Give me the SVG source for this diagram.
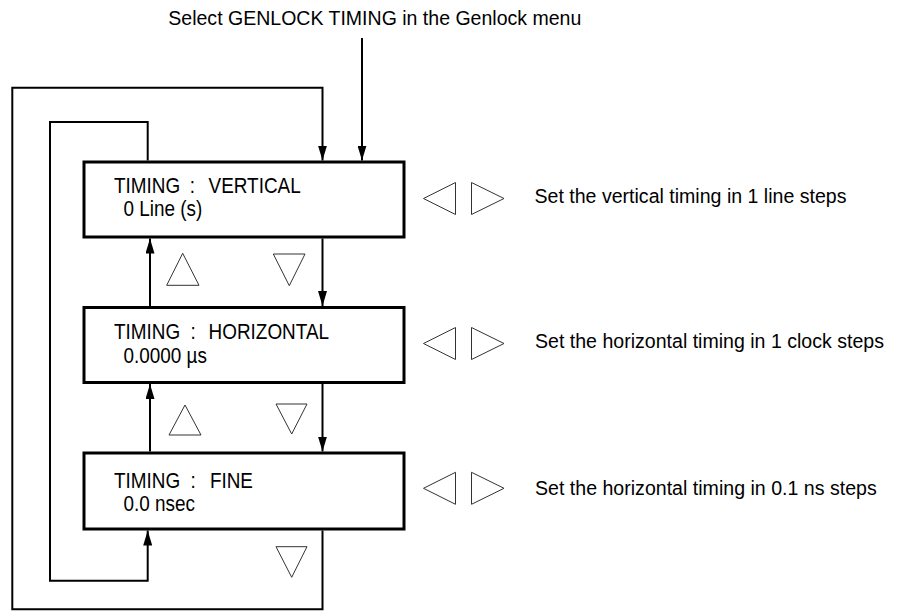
<svg xmlns="http://www.w3.org/2000/svg" width="898" height="612" viewBox="0 0 898 612">
<style>
  .box { fill: #fff; stroke: #000; stroke-width: 3; }
  .bt { font-family: "Liberation Sans", Arial, Helvetica, sans-serif; font-size: 22px; fill: #000; }
  .dt { font-family: "Liberation Sans", Arial, Helvetica, sans-serif; font-size: 20px; fill: #000; }
  .conn { fill: none; stroke: #000; stroke-width: 2; }
  .arr { marker-end: url(#ah); }
  .tri { fill: none; stroke: #333; stroke-width: 1; }
</style>
<defs>
  <marker id="ah" markerUnits="userSpaceOnUse" viewBox="0 0 15 9" refX="15" refY="4.5" markerWidth="15" markerHeight="9" orient="auto">
    <path d="M0,0 L15,4.5 L0,9 Z" fill="#000"/>
  </marker>
</defs>
<rect width="898" height="612" fill="#fff"/>

<text id="title" class="dt" x="168.3" y="24.5" textLength="413" lengthAdjust="spacingAndGlyphs">Select GENLOCK TIMING in the Genlock menu</text>

<g id="connectors">
  <line class="conn arr" x1="362" y1="38" x2="362" y2="160.5"/>
  <path class="conn arr" d="M322.5,530.5 V609.3 H12.3 V87.7 H322.5 V160.5"/>
  <path class="conn arr" d="M147.7,160.5 V122 H50 V580.7 H147.7 V530.5"/>
  <line class="conn arr" x1="322.5" y1="238.5" x2="322.5" y2="306"/>
  <line class="conn arr" x1="150" y1="306" x2="150" y2="238.5"/>
  <line class="conn arr" x1="322.5" y1="384" x2="322.5" y2="451.5"/>
  <line class="conn arr" x1="150" y1="451.5" x2="150" y2="384"/>
</g>

<g id="node-vertical">
  <rect class="box" x="84" y="162" width="320" height="75"/>
  <text class="bt" transform="translate(114,193) scale(0.86,1)">TIMING <tspan x="88">:</tspan> <tspan x="110">VERTICAL</tspan></text>
  <text class="bt" transform="translate(123.5,216) scale(0.86,1)">0 Line (s)</text>
</g>

<g id="node-horizontal">
  <rect class="box" x="84" y="307.5" width="320" height="75"/>
  <text class="bt" transform="translate(114,339) scale(0.86,1)">TIMING <tspan x="89">:</tspan> <tspan x="110">HORIZONTAL</tspan></text>
  <text class="bt" transform="translate(123.5,362.5) scale(0.86,1)">0.0000 µs</text>
</g>

<g id="node-fine">
  <rect class="box" x="84" y="453" width="320" height="76"/>
  <text class="bt" transform="translate(114,487.5) scale(0.86,1)">TIMING <tspan x="89">:</tspan> <tspan x="111.5">FINE</tspan></text>
  <text class="bt" transform="translate(123.5,510.5) scale(0.86,1)">0.0 nsec</text>
</g>

<g id="updown-buttons">
  <polygon class="tri" points="182.7,253.3 199,285.3 166.7,285.3"/>
  <polygon class="tri" points="273.3,254 305,254 289.3,285.7"/>
  <polygon class="tri" points="185,405 201,435 169,435"/>
  <polygon class="tri" points="276,404 307,404 291.7,434"/>
  <polygon class="tri" points="276,546.7 307,546.7 291.7,577.3"/>
</g>

<g id="row-vertical">
  <polygon class="tri" points="423.5,198.5 455.5,182.5 455.5,214.5"/>
  <polygon class="tri" points="471.5,182.5 471.5,214.5 504,198.5"/>
  <text class="dt" x="534.5" y="203.3" textLength="312" lengthAdjust="spacingAndGlyphs">Set the vertical timing in 1 line steps</text>
</g>

<g id="row-horizontal">
  <polygon class="tri" points="423.5,343.5 455.5,327.5 455.5,359.5"/>
  <polygon class="tri" points="471.5,327.5 471.5,359.5 504,343.5"/>
  <text class="dt" x="535" y="348.3" textLength="349" lengthAdjust="spacingAndGlyphs">Set the horizontal timing in 1 clock steps</text>
</g>

<g id="row-fine">
  <polygon class="tri" points="423.5,488.3 455.5,472.3 455.5,504.3"/>
  <polygon class="tri" points="471.5,472.3 471.5,504.3 504,488.3"/>
  <text class="dt" x="535" y="495" textLength="341.7" lengthAdjust="spacingAndGlyphs">Set the horizontal timing in 0.1 ns steps</text>
</g>
</svg>
